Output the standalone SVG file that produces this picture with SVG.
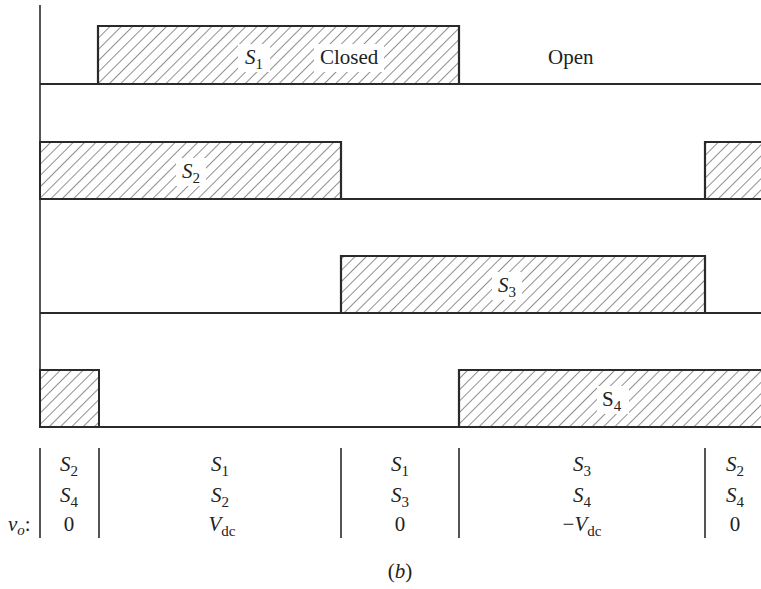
<svg xmlns="http://www.w3.org/2000/svg" width="761" height="589" viewBox="0 0 761 589">
<style>
  text { font-family: "Liberation Serif", "Times New Roman", "DejaVu Serif", serif; font-size: 21px; fill: #222; }
  .i { font-style: italic; }
  .sub { font-size: 15px; font-style: normal; }
  .box { fill: url(#hatch); stroke: #2a2a2a; stroke-width: 2; }
  .wave { fill: none; stroke: #2a2a2a; stroke-width: 2.2; }
  .ax { stroke: #2a2a2a; stroke-width: 1.6; fill: none; }
  .bg { fill: #fff; }
</style>
<defs>
  <pattern id="hatch" patternUnits="userSpaceOnUse" width="8" height="8" patternTransform="rotate(45)">
    <line x1="0" y1="0" x2="0" y2="8" stroke="#333" stroke-width="1.1"/>
  </pattern>
</defs>
<rect width="761" height="589" fill="#fff"/>

<g id="axis">
  <line class="ax" x1="40" y1="5" x2="40" y2="428"/>
</g>

<g id="s1">
  <rect class="box" x="98" y="26" width="361" height="58"/>
  <rect class="bg" x="238" y="44" width="32" height="28"/>
  <rect class="bg" x="314" y="44" width="70" height="28"/>
  <polyline class="wave" points="40,84 98,84 98,26 459,26 459,84 761,84"/>
  <text class="i" x="245" y="64">S<tspan class="sub" dy="5">1</tspan></text>
  <text x="320" y="64">Closed</text>
  <text x="548" y="64">Open</text>
</g>

<g id="s2">
  <rect class="box" x="40" y="142" width="301" height="57"/>
  <rect class="box" x="705" y="142" width="60" height="57"/>
  <rect class="bg" x="176" y="158" width="30" height="28"/>
  <polyline class="wave" points="40,142 341,142 341,199 705,199 705,142 765,142"/>
  <text class="i" x="182" y="178">S<tspan class="sub" dy="5">2</tspan></text>
</g>

<g id="s3">
  <rect class="box" x="341" y="256" width="364" height="57"/>
  <rect class="bg" x="492" y="272" width="30" height="28"/>
  <polyline class="wave" points="40,313 341,313 341,256 705,256 705,313 761,313"/>
  <text class="i" x="498" y="292">S<tspan class="sub" dy="5">3</tspan></text>
</g>

<g id="s4">
  <rect class="box" x="40" y="370" width="59" height="57"/>
  <rect class="box" x="459" y="370" width="306" height="57"/>
  <rect class="bg" x="597" y="386" width="32" height="28"/>
  <polyline class="wave" points="40,427 459,427 459,370 765,370"/>
  <text x="602" y="406">S<tspan class="sub" dy="5">4</tspan></text>
</g>

<g id="table">
  <g class="ax">
    <line x1="40" y1="448" x2="40" y2="538"/>
    <line x1="99" y1="448" x2="99" y2="538"/>
    <line x1="341" y1="448" x2="341" y2="538"/>
    <line x1="459" y1="448" x2="459" y2="538"/>
    <line x1="705" y1="448" x2="705" y2="538"/>
  </g>
  <text x="8" y="531"><tspan class="i">v</tspan><tspan class="sub" style="font-style:italic" dy="4">o</tspan><tspan dy="-4">:</tspan></text>

  <g text-anchor="middle">
    <text class="i" x="69" y="471">S<tspan class="sub" dy="5">2</tspan></text>
    <text class="i" x="69" y="502">S<tspan class="sub" dy="5">4</tspan></text>
    <text x="69" y="531">0</text>

    <text class="i" x="220" y="471">S<tspan class="sub" dy="5">1</tspan></text>
    <text class="i" x="220" y="502">S<tspan class="sub" dy="5">2</tspan></text>
    <text class="i" x="222" y="531">V<tspan class="sub" dy="5">dc</tspan></text>

    <text class="i" x="400" y="471">S<tspan class="sub" dy="5">1</tspan></text>
    <text class="i" x="400" y="502">S<tspan class="sub" dy="5">3</tspan></text>
    <text x="400" y="531">0</text>

    <text class="i" x="582" y="471">S<tspan class="sub" dy="5">3</tspan></text>
    <text class="i" x="582" y="502">S<tspan class="sub" dy="5">4</tspan></text>
    <text x="582" y="531">−<tspan class="i">V</tspan><tspan class="sub" dy="5">dc</tspan></text>

    <text class="i" x="735" y="471">S<tspan class="sub" dy="5">2</tspan></text>
    <text class="i" x="735" y="502">S<tspan class="sub" dy="5">4</tspan></text>
    <text x="735" y="531">0</text>
  </g>
</g>

<text x="400" y="578" text-anchor="middle">(<tspan class="i">b</tspan>)</text>
</svg>
